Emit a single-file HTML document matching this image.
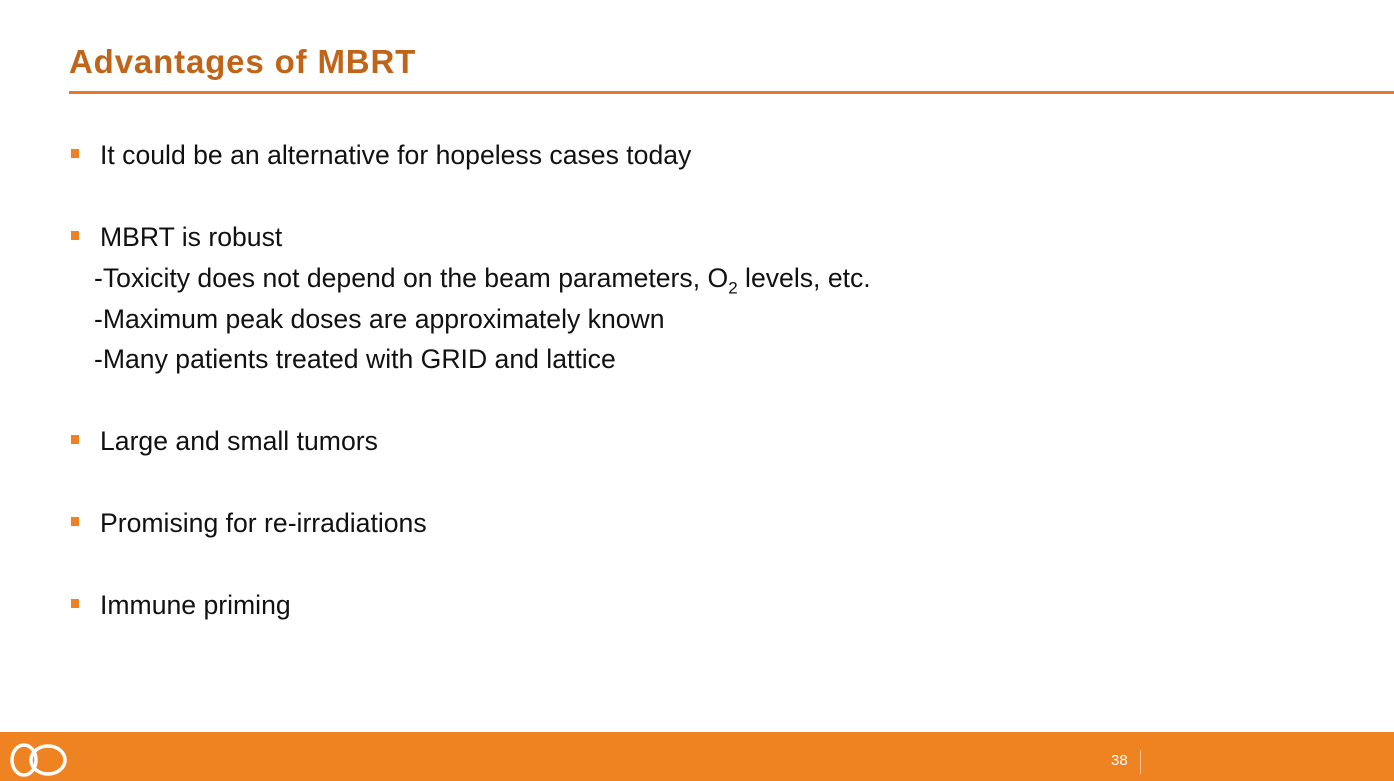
<!DOCTYPE html>
<html><head><meta charset="utf-8"><style>
body{margin:0;width:1394px;height:781px;position:relative;background:#fff;overflow:hidden;font-family:"Liberation Sans",sans-serif}
.t{position:absolute;left:69px;top:43px;font-size:33px;font-weight:bold;color:#bf6418;letter-spacing:0.85px}
.rule{position:absolute;left:69px;right:0;top:91px;height:3px;background:#e8772a}
.l{position:absolute;font-size:26.6px;color:#111;white-space:nowrap;line-height:30px}
.b{position:absolute;left:71px;width:8px;height:9px;background:#ee8121}
.foot{position:absolute;left:0;top:732px;width:1394px;height:49px;background:#ef8221}
.pn{position:absolute;left:1111px;top:752px;font-size:15px;color:#fff}
.sep{position:absolute;left:1140px;top:750px;width:1px;height:24px;background:#f7c08d}
</style></head><body>
<div class="t">Advantages of MBRT</div>
<div class="rule"></div>
<div class="b" style="top:149px"></div>
<div class="l" style="left:100px;top:140px">It could be an alternative for hopeless cases today</div>
<div class="b" style="top:231px"></div>
<div class="l" style="left:100px;top:222px">MBRT is robust</div>
<div class="l" style="left:94px;top:263px">-Toxicity does not depend on the beam parameters, O<sub style="font-size:17px">2</sub> levels, etc.</div>
<div class="l" style="left:94px;top:304px">-Maximum peak doses are approximately known</div>
<div class="l" style="left:94px;top:344px">-Many patients treated with GRID and lattice</div>
<div class="b" style="top:435px"></div>
<div class="l" style="left:100px;top:426px">Large and small tumors</div>
<div class="b" style="top:517px"></div>
<div class="l" style="left:100px;top:508px">Promising for re-irradiations</div>
<div class="b" style="top:599px"></div>
<div class="l" style="left:100px;top:590px">Immune priming</div>
<div class="foot"></div>
<svg style="position:absolute;left:4px;top:742px" width="76" height="36">
<ellipse cx="20" cy="18" rx="12" ry="15" fill="none" stroke="#fff" stroke-width="3.5"/>
<ellipse cx="44" cy="18" rx="17" ry="14" fill="none" stroke="#fff" stroke-width="3.5"/>
</svg>
<div class="pn">38</div>
<div class="sep"></div>
</body></html>
